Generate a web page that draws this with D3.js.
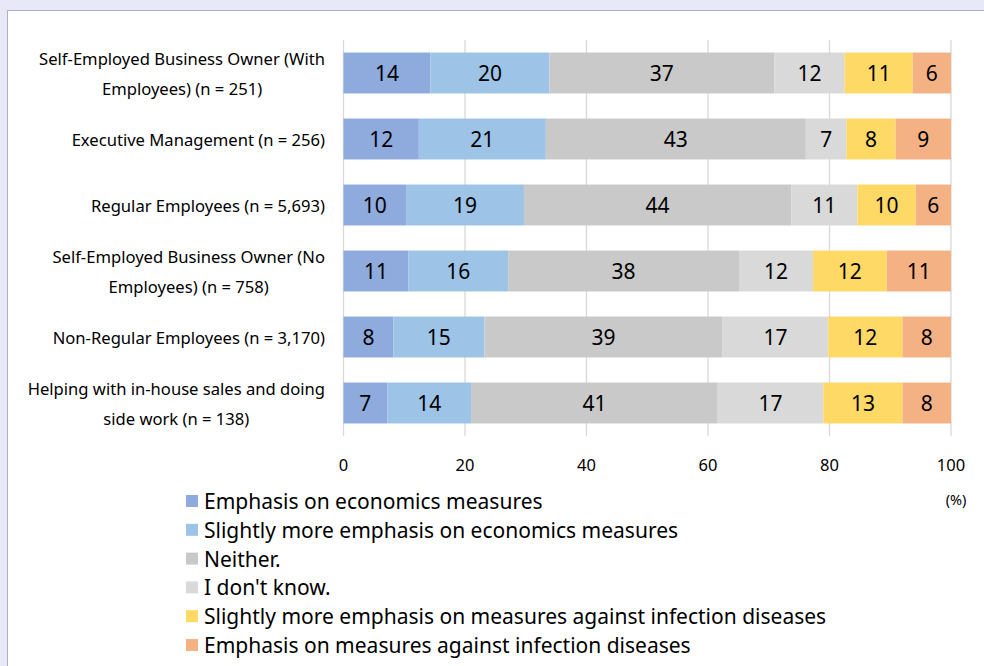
<!DOCTYPE html>
<html>
<head>
<meta charset="utf-8">
<script src="https://cdn.jsdelivr.net/npm/d3@7"></script>
<style>
  html, body { margin: 0; padding: 0; background: #e7e8f8; }
  svg { display: block; }
  text { font-family: "Noto Sans", "Open Sans", sans-serif; fill: #000; }
</style>
</head>
<body>
<svg id="chart" width="984" height="666"></svg>
<script>
// Respondent groups (top to bottom)
const categories = [
  "Self-Employed Business Owner (With Employees) (n = 251)",
  "Executive Management (n = 256)",
  "Regular Employees (n = 5,693)",
  "Self-Employed Business Owner (No Employees) (n = 758)",
  "Non-Regular Employees (n = 3,170)",
  "Helping with in-house sales and doing side work (n = 138)"
];
// Wrapped label lines per group
const categoryLines = [
  ["Self-Employed Business Owner (With", "Employees) (n = 251)"],
  ["Executive Management (n = 256)"],
  ["Regular Employees (n = 5,693)"],
  ["Self-Employed Business Owner (No", "Employees) (n = 758)"],
  ["Non-Regular Employees (n = 3,170)"],
  ["Helping with in-house sales and doing", "side work (n = 138)"]
];

const seriesNames = [
  "Emphasis on economics measures",
  "Slightly more emphasis on economics measures",
  "Neither.",
  "I don't know.",
  "Slightly more emphasis on measures against infection diseases",
  "Emphasis on measures against infection diseases"
];

// Shares (%) per series, one value per group
const emphasisEconomy       = [14.3, 12.4, 10.3, 10.7,  8.2,  7.2];
const slightlyEconomy       = [19.6, 20.9, 19.4, 16.4, 15.0, 13.8];
const neither               = [37.0, 42.8, 44.0, 38.0, 39.2, 40.6];
const dontKnow              = [11.6,  6.7, 10.9, 12.2, 17.4, 17.4];
const slightlyInfection     = [11.2,  8.1,  9.6, 12.1, 12.2, 13.0];
const emphasisInfection     = [ 6.3,  9.1,  5.8, 10.6,  8.0,  8.0];

const seriesValues = [emphasisEconomy, slightlyEconomy, neither, dontKnow, slightlyInfection, emphasisInfection];
const seriesColors = ["#8faadc", "#9dc3e6", "#c9c9c9", "#d9d9d9", "#ffd966", "#f4b183"];
const xTicks = [0, 20, 40, 60, 80, 100];

const svg = d3.select("#chart");

// White panel with a thin border
svg.append("rect")
  .attr("x", 7.5).attr("y", 10.5)
  .attr("width", 1000).attr("height", 700)
  .attr("fill", "#ffffff")
  .attr("stroke", "#aeaec6").attr("stroke-width", 1);

const plotLeft = 343.5, plotRight = 951, plotTop = 40, plotBottom = 436;

const x = d3.scaleLinear().domain([0, 100]).range([plotLeft, plotRight]);
const y = d3.scaleBand().domain(categories).range([plotTop, plotBottom])
  .paddingInner(0.38).paddingOuter(0.19);

// Vertical gridlines
svg.append("g")
  .selectAll("line")
  .data(xTicks)
  .join("line")
  .attr("x1", d => x(d)).attr("x2", d => x(d))
  .attr("y1", plotTop).attr("y2", plotBottom)
  .attr("stroke", "#d9d9d9").attr("stroke-width", 1.3);

// Stack the series
const rows = categories.map((c, i) => {
  const r = { category: c };
  seriesNames.forEach((s, j) => { r[s] = seriesValues[j][i]; });
  return r;
});
const stacked = d3.stack().keys(seriesNames)(rows);

const fmt = d3.format(".0f");

const layers = svg.append("g")
  .selectAll("g")
  .data(stacked)
  .join("g")
  .attr("fill", (d, i) => seriesColors[i]);

layers.selectAll("rect")
  .data(d => d)
  .join("rect")
  .attr("x", d => x(d[0]))
  .attr("y", d => y(d.data.category))
  .attr("width", d => x(d[1]) - x(d[0]))
  .attr("height", y.bandwidth());

// Value labels centred in each segment
layers.selectAll("text")
  .data(d => d.map(p => ({ p, key: d.key })))
  .join("text")
  .attr("x", d => (x(d.p[0]) + x(d.p[1])) / 2)
  .attr("y", d => y(d.p.data.category) + y.bandwidth() / 2)
  .attr("text-anchor", "middle")
  .attr("dominant-baseline", "central")
  .attr("font-size", 21)
  .style("fill", "#000")
  .text(d => fmt(d.p.data[d.key]));

// Category labels: block right-aligned at the axis, lines centred in the block
const labelRight = 325;
const lineGap = 30;
categories.forEach((c, i) => {
  const lines = categoryLines[i];
  const cy = y(c) + y.bandwidth() / 2;
  const g = svg.append("g");
  const texts = lines.map((ln, k) => g.append("text")
    .attr("font-size", 16.6)
    .attr("dominant-baseline", "central")
    .attr("text-anchor", "middle")
    .attr("y", cy + (k - (lines.length - 1) / 2) * lineGap)
    .text(ln));
  const widths = texts.map(t => t.node().getComputedTextLength());
  const blockW = d3.max(widths);
  texts.forEach(t => t.attr("x", labelRight - blockW / 2));
});

// X axis tick labels
svg.append("g")
  .selectAll("text")
  .data(xTicks)
  .join("text")
  .attr("x", d => x(d))
  .attr("y", 464)
  .attr("text-anchor", "middle")
  .attr("dominant-baseline", "central")
  .attr("font-size", 16.5)
  .text(d => d);

svg.append("text")
  .attr("x", 956).attr("y", 499)
  .attr("text-anchor", "middle")
  .attr("dominant-baseline", "central")
  .attr("font-size", 14.5)
  .text("(%)");

// Legend
const legend = svg.append("g")
  .selectAll("g")
  .data(seriesNames)
  .join("g")
  .attr("transform", (d, i) => `translate(186, ${501 + i * 28.8})`);

legend.append("rect")
  .attr("x", 0).attr("y", -6)
  .attr("width", 12).attr("height", 12)
  .attr("fill", (d, i) => seriesColors[i]);

legend.append("text")
  .attr("x", 18).attr("y", 0)
  .attr("dominant-baseline", "central")
  .attr("font-size", 21)
  .text(d => d);
</script>
</body>
</html>
